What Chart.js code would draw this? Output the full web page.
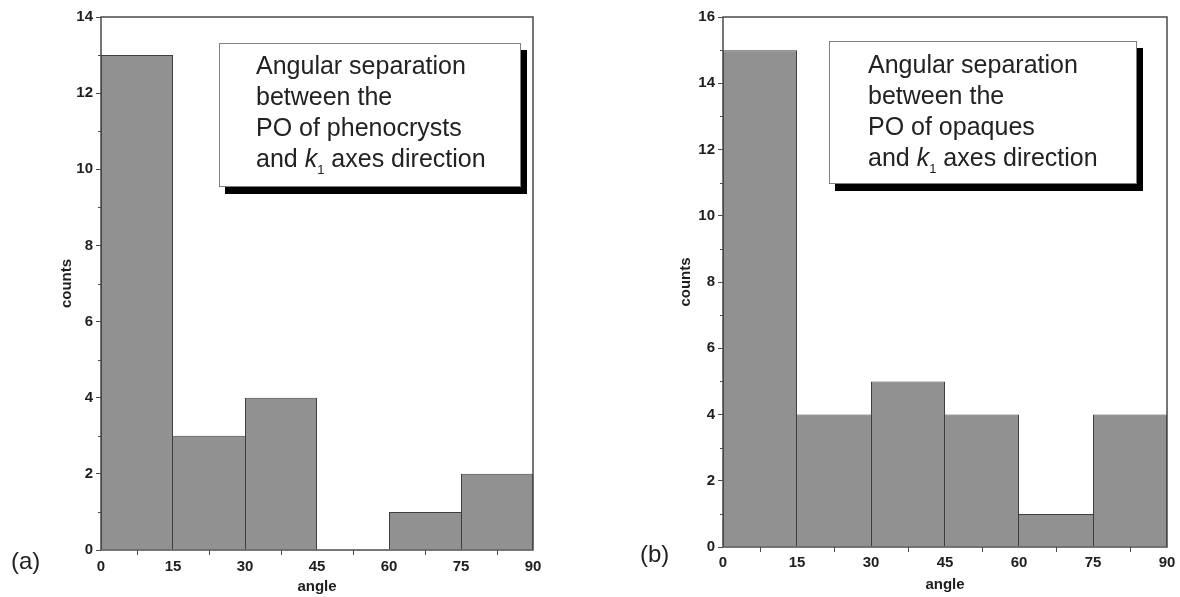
<!DOCTYPE html>
<html>
<head>
<meta charset="utf-8">
<script src="https://cdn.jsdelivr.net/npm/chart.js@4.4.1/dist/chart.umd.min.js"></script>
<style>
    body { margin: 0; background: #fff; width: 1180px; height: 597px; overflow: hidden; position: relative;
        font-family: "Liberation Sans", Arial, sans-serif; }
    canvas { position: absolute; top: 0; }
    .note { position: absolute; box-sizing: border-box; background: #fff; border: 1px solid #808080;
        box-shadow: 6px 7px 0 #000; font-size: 25px; line-height: 31px; color: #222; white-space: nowrap; }
    .note sub { font-size: 13px; position: relative; top: 7px; vertical-align: baseline; line-height: 0; }
    .panel { position: absolute; font-size: 24px; line-height: 24px; color: #222; }
</style>
</head>
<body>
<canvas id="chartA" width="590" height="597" style="left: 0"></canvas>
<canvas id="chartB" width="590" height="597" style="left: 590px"></canvas>

<div class="note" style="left: 219px; top: 43px; width: 302px; height: 144px; padding: 6px 0 0 36px">Angular separation<br>between the<br>PO of phenocrysts<br>and <i>k</i><sub>1</sub> axes direction</div>
<div class="note" style="left: 829px; top: 41px; width: 308px; height: 143px; padding: 7px 0 0 38px">Angular separation<br>between the<br>PO of opaques<br>and <i>k</i><sub>1</sub> axes direction</div>

<div class="panel" style="left: 11px; top: 549px">(a)</div>
<div class="panel" style="left: 640px; top: 542px">(b)</div>

<script>
// bin edges of the angle histogram (degrees)
const binEdges = [0, 15, 30, 45, 60, 75, 90]
// counts per bin
const countsA = [13, 3, 4, 0, 1, 2]
const countsB = [15, 4, 5, 4, 1, 4]
// tick values
const xTicks = [0, 15, 30, 45, 60, 75, 90]
const yTicksA = [0, 2, 4, 6, 8, 10, 12, 14]
const yTicksB = [0, 2, 4, 6, 8, 10, 12, 14, 16]

const FONT = '"Liberation Sans", Arial, sans-serif'
const AXIS_COLOR = "#4a4a4a"
const TEXT_COLOR = "#1e1e1e"
const BAR_FILL = "#919191"
const BAR_EDGE = "#3e3e3e"
const LABEL_SIZE = 15

function midpoints(values) {
    return values.slice(1).map((v, i) => (v + values[i]) / 2)
}

// shared edge between two bins is drawn once, by the taller bar
function edgeWidths(counts) {
    return (ctx) => {
        let i = ctx.dataIndex
        let h = counts[i]
        let prev = i > 0 ? counts[i - 1] : -1
        let next = i < counts.length - 1 ? counts[i + 1] : -1
        return {top: 1, bottom: 0, left: prev < h ? 1 : 0, right: next <= h ? 1 : 0}
    }
}

const framePlugin = {
    id: "frame",
    afterDatasetsDraw(chart) {
        const {ctx, chartArea: a, scales} = chart
        ctx.save()
        ctx.strokeStyle = AXIS_COLOR
        ctx.lineWidth = 1.5
        ctx.strokeRect(a.left, a.top, a.right - a.left, a.bottom - a.top)
        ctx.lineWidth = 1
        ctx.beginPath()
        midpoints(chart.options.xTickValues).forEach(v => {
            let px = Math.round(scales.x.getPixelForValue(v)) + 0.5
            ctx.moveTo(px, a.bottom)
            ctx.lineTo(px, a.bottom + 3)
        })
        midpoints(chart.options.yTickValues).forEach(v => {
            let py = Math.round(scales.y.getPixelForValue(v)) + 0.5
            ctx.moveTo(a.left - 3, py)
            ctx.lineTo(a.left, py)
        })
        ctx.stroke()
        ctx.restore()
    }
}

function makeHistogram(canvasId, counts, yTicks, box) {
    const labelFont = {family: FONT, size: LABEL_SIZE, weight: "bold"}
    const half = LABEL_SIZE * 1.2 / 2
    const points = counts.map((c, i) => ({x: (binEdges[i] + binEdges[i + 1]) / 2, y: c}))
    return new Chart(document.getElementById(canvasId), {
        type: "bar",
        data: {
            datasets: [{
                data: points,
                backgroundColor: BAR_FILL,
                borderColor: BAR_EDGE,
                borderWidth: edgeWidths(counts),
                borderSkipped: "start",
                barPercentage: 1,
                categoryPercentage: 1,
                inflateAmount: 0
            }]
        },
        options: {
            responsive: false,
            animation: false,
            xTickValues: xTicks,
            yTickValues: yTicks,
            layout: {padding: {left: 0, top: box.top, right: box.canvasWidth - box.right, bottom: 0}},
            plugins: {legend: {display: false}, tooltip: {enabled: false}},
            scales: {
                x: {
                    type: "linear",
                    min: binEdges[0],
                    max: binEdges[binEdges.length - 1],
                    offset: false,
                    afterBuildTicks: (s) => { s.ticks = xTicks.map(v => ({value: v})) },
                    afterFit: (s) => { s.height = box.canvasHeight - box.bottom },
                    grid: {drawOnChartArea: false, tickLength: 5, tickColor: AXIS_COLOR, tickWidth: 1},
                    border: {display: false},
                    ticks: {padding: box.tickY - box.bottom - 5 - half, font: labelFont, color: TEXT_COLOR,
                        maxRotation: 0, autoSkip: false},
                    title: {display: true, text: "angle", font: labelFont, color: TEXT_COLOR,
                        padding: {top: 0, bottom: box.canvasHeight - box.angleY - half}}
                },
                y: {
                    type: "linear",
                    min: yTicks[0],
                    max: yTicks[yTicks.length - 1],
                    afterBuildTicks: (s) => { s.ticks = yTicks.map(v => ({value: v})) },
                    afterFit: (s) => { s.width = box.left },
                    grid: {drawOnChartArea: false, tickLength: 5, tickColor: AXIS_COLOR, tickWidth: 1},
                    border: {display: false},
                    ticks: {padding: 3, font: labelFont, color: TEXT_COLOR},
                    title: {display: true, text: "counts", font: labelFont, color: TEXT_COLOR,
                        padding: {top: box.countsX - half, bottom: 0}}
                }
            }
        },
        plugins: [framePlugin]
    })
}

makeHistogram("chartA", countsA, yTicksA,
    {canvasWidth: 590, canvasHeight: 597, left: 101, right: 533, top: 17, bottom: 550, countsX: 67, tickY: 567, angleY: 587})
makeHistogram("chartB", countsB, yTicksB,
    {canvasWidth: 590, canvasHeight: 597, left: 133, right: 577, top: 17, bottom: 547, countsX: 96, tickY: 563, angleY: 585})
</script>
</body>
</html>
